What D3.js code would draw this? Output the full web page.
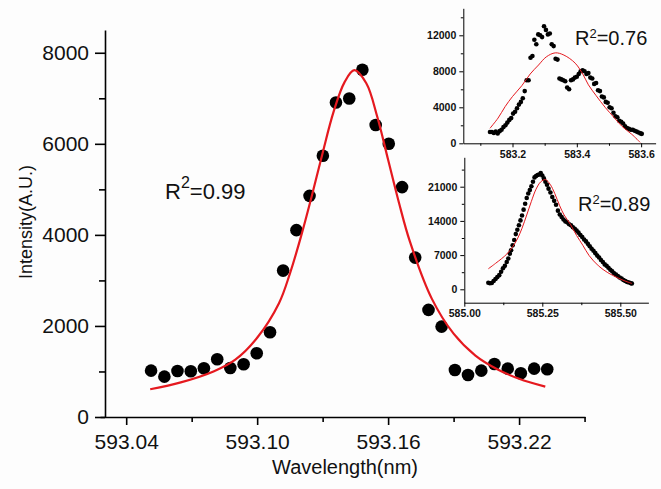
<!DOCTYPE html>
<html>
<head>
<meta charset="utf-8">
<script src="https://cdn.jsdelivr.net/npm/d3@7"></script>
<style>
  html, body { margin: 0; padding: 0; background: #fff; }
  svg { display: block; }
</style>
</head>
<body>
<svg id="chart" width="661" height="489"></svg>
<script>
/* Main line at 593.1 nm (measured points + Lorentz fit), with two small
 * insets for the 583.4 and 585.2 nm lines (Gaussian / Lorentz fits). */

const FONT = '"Liberation Sans", Arial, Helvetica, sans-serif';

/* ---- Main panel data ------------------------------------------------- */
const mainX = [593.0514, 593.0575, 593.0635, 593.0696, 593.0756, 593.0817, 593.0877,
  593.0938, 593.0998, 593.1059, 593.1119, 593.1180, 593.1240, 593.1301, 593.1361,
  593.1422, 593.1482, 593.1543, 593.1603, 593.1664, 593.1724, 593.1785, 593.1845,
  593.1906, 593.1966, 593.2027, 593.2087, 593.2148, 593.2208, 593.2269, 593.2329];
const mainY = [1018, 886, 1011, 1004, 1070, 1268, 1077, 1158, 1400, 1862, 3216, 4104,
  4857, 5737, 6908, 6996, 7627, 6412, 6000, 5049, 3501, 2352, 1985, 1033, 923, 1018,
  1165, 1062, 961, 1062, 1048];
const mainFitX = [593.051, 593.065, 593.080, 593.090, 593.100, 593.110, 593.115, 593.120,
  593.125, 593.130, 593.135, 593.140, 593.1445, 593.150, 593.155, 593.160, 593.165,
  593.170, 593.180, 593.190, 593.200, 593.210, 593.220, 593.232];
const mainFitY = [610, 760, 1000, 1260, 1740, 2500, 3150, 3950, 4850, 5800, 6700, 7350,
  7617, 7330, 6600, 5650, 4700, 3850, 2600, 1830, 1350, 1050, 840, 666];
const mainXTicks = [593.04, 593.10, 593.16, 593.22];
const mainXMinor = [593.07, 593.13, 593.19, 593.25];
const mainYTicks = [0, 2000, 4000, 6000, 8000];
const mainYMinor = [1000, 3000, 5000, 7000];

/* ---- Inset 1 (583 nm) ------------------------------------------------ */
const in1X = [583.130, 583.136, 583.142, 583.148, 583.154, 583.160, 583.166, 583.172,
  583.178, 583.184, 583.190, 583.196, 583.202, 583.208, 583.214, 583.220, 583.226,
  583.232, 583.238, 583.244, 583.250, 583.256, 583.262, 583.268, 583.274, 583.280,
  583.286, 583.292, 583.298, 583.304, 583.310, 583.316, 583.322, 583.328, 583.334,
  583.340, 583.346, 583.352, 583.358, 583.364, 583.370, 583.376, 583.382, 583.388,
  583.394, 583.400, 583.406, 583.412, 583.418, 583.424, 583.430, 583.436, 583.442,
  583.448, 583.454, 583.460, 583.466, 583.472, 583.478, 583.484, 583.490, 583.496,
  583.502, 583.508, 583.514, 583.520, 583.526, 583.532, 583.538, 583.544, 583.550,
  583.556, 583.562, 583.568, 583.574, 583.580, 583.586, 583.592, 583.598, 583.602];
const in1Y = [1250, 1250, 1150, 1300, 1100, 1350, 1500, 1800, 2000, 2300, 2600, 2800,
  3300, 3500, 3900, 4300, 4600, 5000, 5800, 7000, 7000, 9500, 9700, 11500, 11000,
  12100, 12000, 11800, 13000, 12600, 12100, 12200, 11000, 10800, 9400, 9300, 7200,
  7100, 7000, 6900, 6200, 6000, 7000, 7100, 7300, 7400, 7700, 8000, 8100, 8000, 7700,
  7800, 7300, 7200, 6600, 6700, 5900, 5800, 5200, 5100, 4600, 4500, 4000, 3900, 3400,
  3000, 2900, 2500, 2400, 2200, 1900, 1700, 1600, 1500, 1500, 1400, 1300, 1200, 1100,
  1050];
const in1FitX = [583.130, 583.155, 583.177, 583.200, 583.229, 583.255, 583.281, 583.305,
  583.333, 583.360, 583.395, 583.420, 583.436, 583.460, 583.488, 583.515, 583.540,
  583.571, 583.597];
const in1FitY = [1670, 2800, 4070, 5200, 6400, 7700, 8700, 9600, 10050, 9800, 8900, 7600,
  6500, 5300, 4000, 2900, 1900, 1000, 100];
const in1XTicks = [583.2, 583.4, 583.6];
const in1XMinor = [583.1, 583.3, 583.5];
const in1YTicks = [0, 4000, 8000, 12000];
const in1YMinor = [2000, 6000, 10000, 14000];

/* ---- Inset 2 (585 nm) ------------------------------------------------ */
const in2X = [585.077, 585.082, 585.088, 585.094, 585.100, 585.106, 585.112, 585.118,
  585.124, 585.130, 585.136, 585.141, 585.146, 585.150, 585.155, 585.160, 585.165,
  585.170, 585.175, 585.180, 585.185, 585.190, 585.195, 585.200, 585.205, 585.210,
  585.215, 585.220, 585.225, 585.230, 585.235, 585.240, 585.245, 585.250, 585.255,
  585.260, 585.265, 585.270, 585.276, 585.282, 585.288, 585.294, 585.300, 585.306,
  585.312, 585.318, 585.324, 585.330, 585.336, 585.342, 585.348, 585.354, 585.360,
  585.366, 585.372, 585.378, 585.384, 585.390, 585.396, 585.402, 585.408, 585.414,
  585.420, 585.426, 585.432, 585.438, 585.444, 585.450, 585.456, 585.462, 585.468,
  585.474, 585.480, 585.486, 585.492, 585.498, 585.504, 585.510, 585.516, 585.522,
  585.528, 585.534, 585.537];
const in2Y = [1350, 1250, 1300, 1700, 2100, 2500, 2900, 3600, 4300, 4800, 5600, 6300,
  7300, 8000, 9000, 10100, 11300, 12200, 13100, 14100, 15100, 16300, 17500, 18700,
  19600, 20300, 21100, 22000, 22900, 23200, 23400, 23500, 23800, 23300, 22700, 22000,
  21400, 20600, 19800, 18900, 18100, 17300, 16100, 15300, 14800, 14300, 13900, 13700,
  13300, 13100, 12700, 12400, 12000, 11600, 11100, 10700, 10200, 9800, 9300, 8800,
  8300, 7900, 7400, 6900, 6500, 6000, 5600, 5100, 4800, 4400, 4000, 3700, 3300, 3000,
  2700, 2400, 2200, 1900, 1700, 1500, 1400, 1250, 1200];
const in2FitX = [585.077, 585.100, 585.120, 585.136, 585.155, 585.170, 585.185, 585.200,
  585.215, 585.230, 585.245, 585.260, 585.275, 585.290, 585.305, 585.320, 585.340,
  585.360, 585.380, 585.400, 585.430, 585.460, 585.490, 585.515, 585.537];
const in2FitY = [4200, 5300, 6300, 7200, 8700, 10300, 12500, 15200, 18000, 20500, 22000,
  22450, 21500, 19600, 17200, 15200, 13300, 11000, 9000, 6900, 4800, 3400, 2400, 1700,
  1200];
const in2XTicks = [585.00, 585.25, 585.50];
const in2XMinor = [585.125, 585.375];
const in2YTicks = [0, 7000, 14000, 21000];
const in2YMinor = [3500, 10500, 17500, 24500];

const RED = '#e5191f';

const svg = d3.select('#chart');
svg.append('rect').attr('width', 661).attr('height', 489).attr('fill', '#fdfdfd');

/* ---- Axis helper: minor ticks (no labels) + labelled major ticks ----- */
function addAxis(parent, orient, scale, pos, major, minor, fmt, o) {
  const mk = orient === 'left' ? d3.axisLeft : d3.axisBottom;
  const tr = orient === 'left' ? `translate(${pos},0)` : `translate(0,${pos})`;

  const gm = parent.append('g').attr('transform', tr)
    .call(mk(scale).tickValues(minor).tickSize(o.minor).tickFormat('').tickSizeOuter(0));
  gm.select('.domain').remove();
  gm.selectAll('.tick line').attr('stroke', '#000').attr('stroke-width', o.sw);

  const g = parent.append('g').attr('transform', tr)
    .call(mk(scale).tickValues(major).tickSize(o.major).tickPadding(o.pad)
      .tickFormat(fmt).tickSizeOuter(0));
  g.attr('font-family', FONT).attr('font-size', o.font);
  g.select('.domain').attr('stroke', '#000').attr('stroke-width', o.sw);
  g.selectAll('.tick line').attr('stroke', '#000').attr('stroke-width', o.sw);
  g.selectAll('.tick text').attr('fill', '#111').attr('font-weight', o.weight || 'normal');
  return g;
}

function rSquared(parent, x, y, value, size, supSize, supDy) {
  const t = parent.append('text')
    .attr('x', x).attr('y', y)
    .attr('font-family', FONT).attr('font-size', size).attr('fill', '#111');
  t.append('tspan').text('R');
  t.append('tspan').attr('font-size', supSize).attr('dy', supDy).text('2');
  t.append('tspan').attr('dy', -supDy).text('=' + value);
}

/* ---- Main panel ------------------------------------------------------ */
const xMain = d3.scaleLinear().domain([593.028, 593.2502]).range([100, 585]);
const yMain = d3.scaleLinear().domain([0, 8500]).range([417, 30]);

const gMain = svg.append('g');

addAxis(gMain, 'bottom', xMain, 417, mainXTicks, mainXMinor, d3.format('.2f'),
  { major: 8, minor: 5, pad: 9, font: 21, sw: 1.6 });
addAxis(gMain, 'left', yMain, 105, mainYTicks, mainYMinor, d3.format('d'),
  { major: 10, minor: 6, pad: 6, font: 21, sw: 1.6 });

gMain.selectAll('circle.pt')
  .data(mainX.map((x, i) => [x, mainY[i]]))
  .join('circle')
  .attr('class', 'pt')
  .attr('cx', d => xMain(d[0]))
  .attr('cy', d => yMain(d[1]))
  .attr('r', 6.3)
  .attr('fill', '#000');

gMain.append('path')
  .datum(mainFitX.map((x, i) => [x, mainFitY[i]]))
  .attr('fill', 'none')
  .attr('stroke', RED)
  .attr('stroke-width', 2.2)
  .attr('d', d3.line().x(d => xMain(d[0])).y(d => yMain(d[1])).curve(d3.curveCatmullRom));

rSquared(gMain, 165, 199, '0.99', 22, 16, -11);

svg.append('text')
  .attr('x', 345).attr('y', 474)
  .attr('text-anchor', 'middle')
  .attr('font-family', FONT).attr('font-size', 20).attr('fill', '#111')
  .text('Wavelength(nm)');

svg.append('text')
  .attr('transform', 'translate(32,222) rotate(-90)')
  .attr('text-anchor', 'middle')
  .attr('font-family', FONT).attr('font-size', 18).attr('fill', '#111')
  .text('Intensity(A.U.)');

/* ---- Insets ---------------------------------------------------------- */
function drawInset(cfg) {
  const g = svg.append('g');
  addAxis(g, 'bottom', cfg.x, cfg.axisY, cfg.xTicks, cfg.xMinor, cfg.xFmt,
    { major: 4, minor: 2.5, pad: 3, font: 10.5, sw: 1, weight: 'bold' });
  addAxis(g, 'left', cfg.y, cfg.axisX, cfg.yTicks, cfg.yMinor, d3.format('d'),
    { major: 4, minor: 2.5, pad: 3, font: 10.5, sw: 1, weight: 'bold' });

  g.selectAll('circle.dot')
    .data(cfg.px.map((x, i) => [x, cfg.py[i]]))
    .join('circle')
    .attr('class', 'dot')
    .attr('cx', d => cfg.x(d[0]))
    .attr('cy', d => cfg.y(d[1]))
    .attr('r', 2.3)
    .attr('fill', '#000');

  g.append('path')
    .datum(cfg.fx.map((x, i) => [x, cfg.fy[i]]))
    .attr('fill', 'none')
    .attr('stroke', RED)
    .attr('stroke-width', 1)
    .attr('d', d3.line().x(d => cfg.x(d[0])).y(d => cfg.y(d[1])).curve(d3.curveCatmullRom));

  rSquared(g, cfg.label[0], cfg.label[1], cfg.r2, 20, 13, -7);
}

drawInset({
  x: d3.scaleLinear().domain([583.047, 583.645]).range([463.3, 655.6]),
  y: d3.scaleLinear().domain([0, 15000]).range([143.3, 8.3]),
  axisX: 463.3, axisY: 143.3,
  xTicks: in1XTicks, xMinor: in1XMinor, xFmt: d3.format('.1f'),
  yTicks: in1YTicks, yMinor: in1YMinor,
  px: in1X, py: in1Y, fx: in1FitX, fy: in1FitY,
  r2: '0.76', label: [575, 45]
});

drawInset({
  x: d3.scaleLinear().domain([585.0, 585.59]).range([464.3, 648.4]),
  y: d3.scaleLinear().domain([-2743, 27018]).range([302.7, 157.3]),
  axisX: 464.3, axisY: 302.7,
  xTicks: in2XTicks, xMinor: in2XMinor, xFmt: d3.format('.2f'),
  yTicks: in2YTicks, yMinor: in2YMinor,
  px: in2X, py: in2Y, fx: in2FitX, fy: in2FitY,
  r2: '0.89', label: [578, 211]
});
</script>
</body>
</html>
